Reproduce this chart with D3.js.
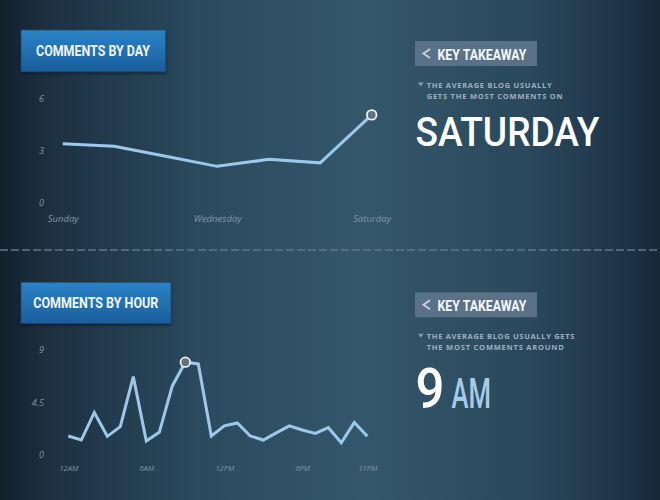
<!DOCTYPE html>
<html>
<head>
<meta charset="utf-8">
<script src="https://cdn.jsdelivr.net/npm/d3@7"></script>
<style>
  html, body { margin: 0; padding: 0; background: #1a2c3c; }
  svg { display: block; }
  .grid line { stroke: #8d9ca8; stroke-opacity: 0.75; stroke-width: 1.2; }
  .grid path { display: none; }
  .axis text { fill: #8296a6; font-family: "Open Sans", sans-serif; font-style: italic; }
  .axis path, .axis line { display: none; }
</style>
</head>
<body>
<svg id="chart" width="660" height="500"></svg>
<script>
// comments by day of week
const days = ['Sunday', 'Monday', 'Tuesday', 'Wednesday', 'Thursday', 'Friday', 'Saturday'];
const dayValues = [3.4, 3.25, 2.68, 2.1, 2.5, 2.3, 5.05];
const dayTicks = [0, 3, 6];
const dayLabels = ['Sunday', 'Wednesday', 'Saturday'];

// comments by hour of day (0 = 12AM)
const hours = d3.range(24);
const hourValues = [1.58, 1.23, 3.6, 1.55, 2.38, 6.7, 1.15, 1.9, 5.9, 7.95, 7.8, 1.58,
                    2.45, 2.7, 1.58, 1.23, 1.85, 2.45, 2.1, 1.8, 2.3, 1.0, 2.75, 1.55];
const hourTicks = [0, 4.5, 9];
const hourLabelHours = [0, 6, 12, 18, 23];
const hourLabelText = ['12AM', '6AM', '12PM', '6PM', '11PM'];

const svg = d3.select('#chart');
const defs = svg.append('defs');

// background: dark edges, lighter middle
const bg = defs.append('linearGradient').attr('id', 'bg');
[[0, '#13202c'], [0.07, '#1c3041'], [0.3, '#2b4a5e'], [0.55, '#34576b'],
 [0.8, '#2b485c'], [0.93, '#1f364a'], [1, '#162838']]
  .forEach(([o, c]) => bg.append('stop').attr('offset', o).attr('stop-color', c));
svg.append('rect').attr('width', 660).attr('height', 500).attr('fill', 'url(#bg)');

const blue = defs.append('linearGradient').attr('id', 'titleFill')
  .attr('x1', 0).attr('y1', 0).attr('x2', 0).attr('y2', 1);
blue.append('stop').attr('offset', 0).attr('stop-color', '#2b83c6');
blue.append('stop').attr('offset', 1).attr('stop-color', '#1b5d9c');

const shadow = defs.append('filter').attr('id', 'shadow')
  .attr('x', '-10%').attr('y', '-20%').attr('width', '130%').attr('height', '160%');
shadow.append('feDropShadow').attr('dx', 0).attr('dy', 1.5).attr('stdDeviation', 1.5)
  .attr('flood-color', '#000').attr('flood-opacity', 0.5);

// dashed separator
svg.append('line').attr('x1', 0).attr('x2', 660).attr('y1', 250).attr('y2', 250)
  .attr('stroke', '#5d778b').attr('stroke-width', 1.5).attr('stroke-dasharray', '8,3');

const condensed = 'Roboto, "DejaVu Sans Condensed", sans-serif';

function titleBox(x, y, w, h, label, tx, tw) {
  svg.append('rect').attr('x', x).attr('y', y).attr('width', w).attr('height', h)
    .attr('fill', 'url(#titleFill)').attr('stroke', '#174c80').attr('stroke-width', 0.8)
    .attr('filter', 'url(#shadow)');
  svg.append('text').attr('x', tx).attr('y', y + h / 2 + 5.5)
    .attr('textLength', tw).attr('lengthAdjust', 'spacingAndGlyphs')
    .attr('fill', '#f2f6fa').style('font-family', condensed)
    .style('font-weight', 'bold').style('font-size', '15px')
    .text(label);
}

function takeaway(y, lines, widths) {
  svg.append('rect').attr('x', 415).attr('y', y).attr('width', 122).attr('height', 25)
    .attr('fill', '#5a7287');
  svg.append('path').attr('d', `M430,${y + 8} L423.5,${y + 12.5} L430,${y + 17}`)
    .attr('fill', 'none').attr('stroke', '#c4cfd8').attr('stroke-width', 2);
  svg.append('text').attr('x', 437.5).attr('y', y + 19)
    .attr('textLength', 89).attr('lengthAdjust', 'spacingAndGlyphs')
    .attr('fill', '#f4f7fa').style('font-family', condensed)
    .style('font-weight', 'bold').style('font-size', '14.5px')
    .text('KEY TAKEAWAY');
  const ty = y + 47;
  svg.append('path').attr('d', `M418,${ty - 5.5} L423.5,${ty - 5.5} L420.75,${ty - 1.5} Z`)
    .attr('fill', '#8a9cab');
  lines.forEach((t, i) => {
    svg.append('text').attr('x', 426.7).attr('y', ty + i * 10.8)
      .attr('textLength', widths[i]).attr('lengthAdjust', 'spacing')
      .attr('fill', '#9fb0be').style('font-family', '"Open Sans", sans-serif')
      .style('font-weight', 700).style('font-size', '7.5px')
      .text(t);
  });
}

function lineChart(o) {
  const x = d3.scalePoint().domain(o.domain).range(o.xRange);
  const y = d3.scaleLinear().domain([0, o.max]).range(o.yRange);
  const g = svg.append('g');

  g.append('g').attr('class', 'grid axis')
    .attr('transform', `translate(${o.gridX[0]},0)`)
    .call(d3.axisLeft(y).tickValues(o.yTicks).tickSize(-(o.gridX[1] - o.gridX[0]))
      .tickPadding(9).tickFormat(d3.format('')))
    .call(s => s.selectAll('line').style('display', null))
    .call(s => s.selectAll('text').style('font-size', '9px'));

  g.append('g').attr('class', 'axis')
    .attr('transform', `translate(0,${o.yRange[0]})`)
    .call(d3.axisBottom(x).tickValues(o.xTicks).tickSize(0).tickPadding(o.xPad)
      .tickFormat(o.xFormat))
    .call(s => s.selectAll('text').style('font-size', o.xFont));

  const line = d3.line().x((d, i) => x(o.domain[i])).y(d => y(d));
  g.append('path').datum(o.values).attr('d', line)
    .attr('fill', 'none').attr('stroke', '#9dc8ea').attr('stroke-width', 3)
    .attr('stroke-linejoin', 'miter');

  const hi = o.domain[o.highlight];
  g.append('circle').attr('cx', x(hi)).attr('cy', y(o.values[o.highlight])).attr('r', 4.8)
    .attr('fill', '#5f7282').attr('stroke', '#eef2f5').attr('stroke-width', 1.8);
}

// ---- comments by day ----
titleBox(21, 30, 144.7, 41.7, 'COMMENTS BY DAY', 36, 114);
lineChart({
  domain: days, values: dayValues, max: 6, yTicks: dayTicks,
  xRange: [62.7, 371.7], yRange: [203, 98.3], gridX: [53, 379],
  xTicks: dayLabels, xFormat: d => d, xPad: 12, xFont: '9.5px', highlight: 6
});

takeaway(41, ['THE AVERAGE BLOG USUALLY', 'GETS THE MOST COMMENTS ON'], [125, 136]);
svg.append('text').attr('x', 415.5).attr('y', 145.5)
  .attr('textLength', 184).attr('lengthAdjust', 'spacingAndGlyphs')
  .attr('fill', '#ffffff').style('font-family', condensed).style('font-weight', 500)
  .style('font-size', '40.5px')
  .text('SATURDAY');

// ---- comments by hour ----
titleBox(21, 282.3, 150, 41, 'COMMENTS BY HOUR', 33.3, 125);
lineChart({
  domain: hours, values: hourValues, max: 9, yTicks: hourTicks,
  xRange: [68.3, 367.3], yRange: [454.3, 350], gridX: [53, 379],
  xTicks: hourLabelHours, xFormat: d => hourLabelText[hourLabelHours.indexOf(d)],
  xPad: 11, xFont: '7.5px', highlight: 9
});

takeaway(292.3, ['THE AVERAGE BLOG USUALLY GETS', 'THE MOST COMMENTS AROUND'], [147.6, 137]);
svg.append('text').attr('x', 415.5).attr('y', 408)
  .attr('textLength', 29).attr('lengthAdjust', 'spacingAndGlyphs')
  .attr('fill', '#ffffff').style('font-family', condensed).style('font-weight', 500)
  .style('font-size', '56px')
  .text('9');
svg.append('text').attr('x', 451.5).attr('y', 408)
  .attr('textLength', 39.5).attr('lengthAdjust', 'spacingAndGlyphs')
  .attr('fill', '#a6cbe9').style('font-family', condensed).style('font-weight', 500)
  .style('font-size', '43px')
  .text('AM');
</script>
</body>
</html>
